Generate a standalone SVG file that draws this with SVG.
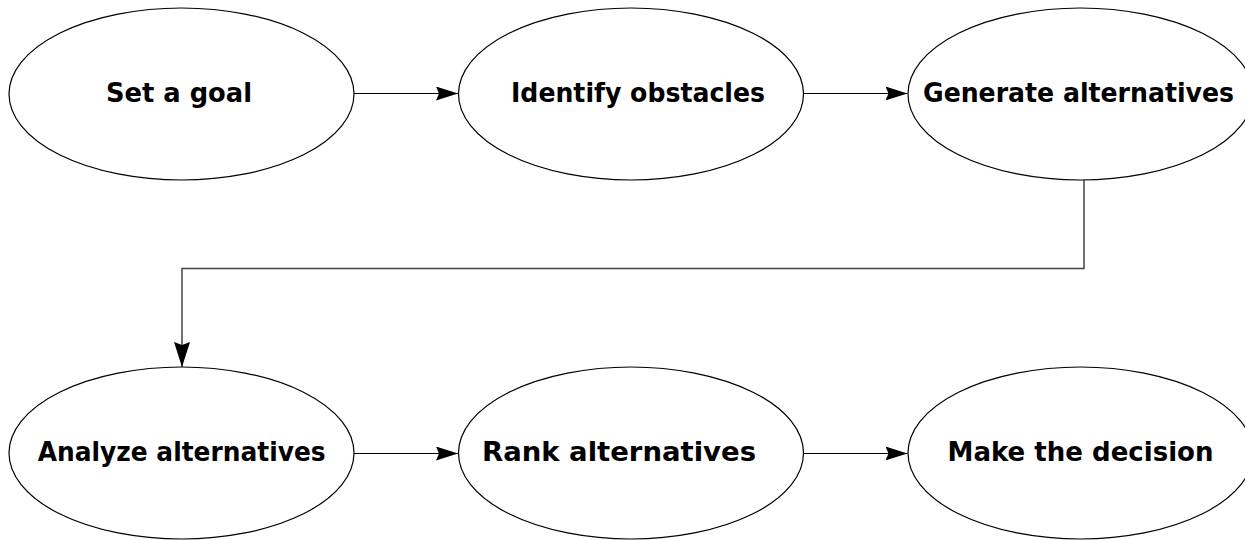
<svg xmlns="http://www.w3.org/2000/svg" width="1245" height="540" viewBox="0 0 1245 540">
<style>
.node ellipse{fill:#fff;stroke:#000;stroke-width:1.2}
.node text{font-family:"DejaVu Sans",Verdana,sans-serif;font-weight:bold;font-size:26.5px;fill:#000;text-anchor:middle}
.conn{fill:none;stroke:#000;stroke-width:1.2}
.elbow{fill:none;stroke:#444;stroke-width:1.5}
</style>
<defs>
<marker id="ah" markerUnits="userSpaceOnUse" markerWidth="24" markerHeight="16" refX="22" refY="7" orient="auto">
<path d="M0,0 L22,7 L0,14 L3,7 Z" fill="#000"/>
</marker>
<marker id="ahv" markerUnits="userSpaceOnUse" markerWidth="26" markerHeight="18" refX="25" refY="8" orient="auto">
<path d="M0,0 L25,8 L0,16 L3,8 Z" fill="#000"/>
</marker>
</defs>
<g id="connectors">
<line class="conn" x1="354" y1="93.5" x2="458" y2="93.5" marker-end="url(#ah)"/>
<line class="conn" x1="804" y1="93.5" x2="907.5" y2="93.5" marker-end="url(#ah)"/>
<polyline class="elbow" points="1084,180 1084,268.5 182,268.5 182,367" marker-end="url(#ahv)"/>
<line class="conn" x1="354" y1="453.5" x2="458" y2="453.5" marker-end="url(#ah)"/>
<line class="conn" x1="804" y1="453.5" x2="907.5" y2="453.5" marker-end="url(#ah)"/>
</g>
<g id="n1" class="node"><ellipse cx="181.5" cy="94" rx="172.5" ry="86"/><text x="179" y="102" textLength="146" lengthAdjust="spacingAndGlyphs">Set a goal</text></g>
<g id="n2" class="node"><ellipse cx="631" cy="94" rx="172.5" ry="86"/><text x="638" y="102" textLength="254" lengthAdjust="spacingAndGlyphs">Identify obstacles</text></g>
<g id="n3" class="node"><ellipse cx="1080.5" cy="94" rx="172.5" ry="86"/><text x="1078.5" y="102" textLength="311" lengthAdjust="spacingAndGlyphs">Generate alternatives</text></g>
<g id="n4" class="node"><ellipse cx="181.5" cy="453" rx="172.5" ry="86"/><text x="181.7" y="461" textLength="288" lengthAdjust="spacingAndGlyphs">Analyze alternatives</text></g>
<g id="n5" class="node"><ellipse cx="631" cy="453" rx="172.5" ry="86"/><text x="619" y="461" textLength="274" lengthAdjust="spacingAndGlyphs">Rank alternatives</text></g>
<g id="n6" class="node"><ellipse cx="1080.5" cy="453" rx="172.5" ry="86"/><text x="1080.5" y="461" textLength="266" lengthAdjust="spacingAndGlyphs">Make the decision</text></g>
</svg>
